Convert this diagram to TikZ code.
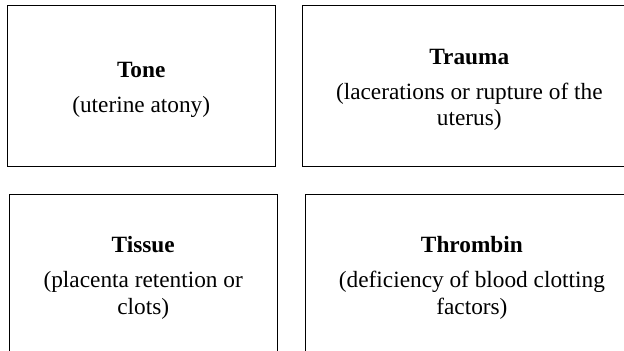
\documentclass[tikz,border=0pt]{standalone}
\usepackage{fontspec}
\setmainfont{Liberation Serif}
\usetikzlibrary{positioning}

\newcommand\topstrut{\rule{0pt}{11.3pt}}

\tikzset{
  causebox/.style={draw, line width=0.5pt, align=flush center, inner sep=0pt,
    minimum height=80.35pt, font=\fontsize{11.65}{13.2}\selectfont},
  leftbox/.style={causebox, minimum width=133.8pt, text width=120pt},
  rightbox/.style={causebox, minimum width=166.6pt, text width=145pt}
}

\begin{document}
\begin{tikzpicture}[x=0.5pt,y=-0.5pt]

  %% frame of the picture
  \useasboundingbox (0,0) rectangle (624,351);
  \clip (0,0) rectangle (624,351);

  %% top row
  \node[leftbox] (tone) at (141.2,86.3)
    {\topstrut\textbf{Tone}\\[4.3pt](uterine atony)};
  \node[rightbox, right=13.35pt of tone] (trauma)
    {\topstrut\textbf{Trauma}\\[4.3pt](lacerations or rupture of the uterus)};

  %% bottom row
  \node[leftbox, below=13.3pt of tone, xshift=1pt] (tissue)
    {\topstrut\textbf{Tissue}\\[4.3pt](placenta retention or clots)};
  \node[rightbox, right=13.65pt of tissue] (thrombin)
    {\topstrut\textbf{Thrombin}\\[4.3pt](deficiency of blood clotting factors)};

\end{tikzpicture}
\end{document}
